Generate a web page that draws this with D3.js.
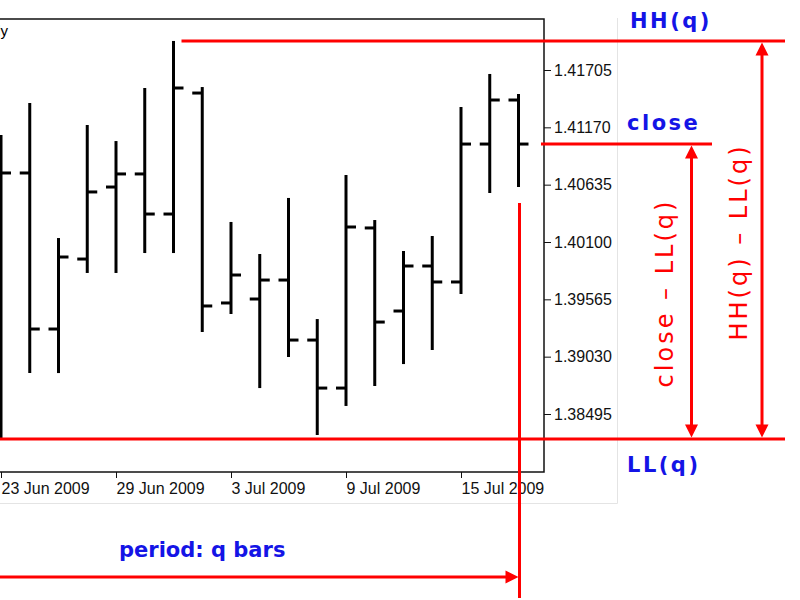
<!DOCTYPE html>
<html>
<head>
<meta charset="utf-8">
<script src="https://cdn.jsdelivr.net/npm/d3@7"></script>
<style>
  body { margin: 0; background: #fff; }
  svg { display: block; }
</style>
</head>
<body>
<script>
const width = 800;
const height = 600;

// daily bars, 23 Jun - 17 Jul 2009
const dates = ["23 Jun 2009", "24 Jun 2009", "25 Jun 2009", "26 Jun 2009", "29 Jun 2009", "30 Jun 2009",
  "1 Jul 2009", "2 Jul 2009", "3 Jul 2009", "6 Jul 2009", "7 Jul 2009", "8 Jul 2009", "9 Jul 2009",
  "10 Jul 2009", "13 Jul 2009", "14 Jul 2009", "15 Jul 2009", "16 Jul 2009", "17 Jul 2009"];
const open  = [1.39400, 1.40744, 1.39288, 1.39941, 1.40613, 1.40735, 1.40361, 1.41490, 1.39531, 1.39568,
  1.39745, 1.39185, 1.38737, 1.40231, 1.39456, 1.39876, 1.39727, 1.41014, 1.41425];
const high  = [1.41098, 1.41397, 1.40137, 1.41192, 1.41042, 1.41537, 1.41976, 1.41546, 1.40287, 1.39988,
  1.40511, 1.39381, 1.40725, 1.40305, 1.40016, 1.40156, 1.41360, 1.41668, 1.41481];
const low   = [1.38262, 1.38877, 1.38877, 1.39811, 1.39811, 1.39997, 1.39997, 1.39260, 1.39428, 1.38737,
  1.39027, 1.38299, 1.38570, 1.38756, 1.38961, 1.39092, 1.39615, 1.40557, 1.40613];
const close = [1.40744, 1.39288, 1.39960, 1.40567, 1.40735, 1.40361, 1.41537, 1.39503, 1.39792, 1.39745,
  1.39185, 1.38737, 1.40240, 1.39353, 1.39876, 1.39727, 1.41014, 1.41425, 1.41014];

const priceTicks = [1.38495, 1.39030, 1.39565, 1.40100, 1.40635, 1.41170, 1.41705];
const dateTicks = ["23 Jun 2009", "29 Jun 2009", "3 Jul 2009", "9 Jul 2009", "15 Jul 2009"];

const red = "#ff0000";
const blue = "#1414e6";

const frame = { left: -5, right: 544, top: 19, bottom: 472 };

const svg = d3.select("body").append("svg")
    .attr("width", width)
    .attr("height", height);

const x = d3.scaleLinear().domain([0, dates.length - 1]).range([1, 518.5]);
const y = d3.scaleLinear().domain([1.38495, 1.41705]).range([414, 70]);

// light outer panel border
svg.append("line").attr("x1", 617.5).attr("x2", 617.5).attr("y1", 18).attr("y2", 503.5)
    .attr("stroke", "#e4e4e4");
svg.append("line").attr("x1", 0).attr("x2", 617.5).attr("y1", 503.5).attr("y2", 503.5)
    .attr("stroke", "#e4e4e4");

// chart frame
svg.append("rect")
    .attr("x", frame.left).attr("y", frame.top)
    .attr("width", frame.right - frame.left).attr("height", frame.bottom - frame.top)
    .attr("fill", "#fff").attr("stroke", "#111").attr("stroke-width", 1.5);

// title, cut off at the left edge as in the source picture
svg.append("text")
    .attr("x", 8).attr("y", 36)
    .attr("text-anchor", "end")
    .attr("font-family", "Liberation Sans, Arial, sans-serif")
    .attr("font-size", 15)
    .text("EURUSD,Daily");

// price axis
const yAxis = svg.append("g")
    .attr("transform", `translate(${frame.right},0)`)
    .call(d3.axisRight(y).tickValues(priceTicks).tickFormat(d3.format(".5f")).tickSize(7).tickPadding(3));
yAxis.select(".domain").remove();
yAxis.selectAll("line").attr("stroke", "#111");
yAxis.selectAll("text")
    .attr("font-family", "Liberation Sans, Arial, sans-serif")
    .attr("font-size", 16).attr("fill", "#111");

// date axis
const xAxis = svg.append("g")
    .attr("transform", `translate(0,${frame.bottom})`)
    .call(d3.axisBottom(x).tickValues(dateTicks.map(d => dates.indexOf(d)))
        .tickFormat(i => dates[i]).tickSize(6).tickPadding(5));
xAxis.select(".domain").remove();
xAxis.selectAll("line").attr("stroke", "#111");
xAxis.selectAll("text")
    .attr("text-anchor", "start")
    .attr("x", 0)
    .attr("font-family", "Liberation Sans, Arial, sans-serif")
    .attr("font-size", 16).attr("fill", "#111");

// OHLC bars
const bars = dates.map((d, i) => ({ i, o: open[i], h: high[i], l: low[i], c: close[i] }));
const tickLen = 10;

const barG = svg.append("g").attr("stroke", "#000").attr("stroke-width", 3);
barG.selectAll("line.hl")
    .data(bars)
    .enter().append("line")
    .attr("class", "hl")
    .attr("x1", d => x(d.i)).attr("x2", d => x(d.i))
    .attr("y1", d => y(d.h)).attr("y2", d => y(d.l));
barG.selectAll("line.op")
    .data(bars)
    .enter().append("line")
    .attr("class", "op")
    .attr("x1", d => x(d.i) - tickLen).attr("x2", d => x(d.i))
    .attr("y1", d => y(d.o)).attr("y2", d => y(d.o));
barG.selectAll("line.cl")
    .data(bars)
    .enter().append("line")
    .attr("class", "cl")
    .attr("x1", d => x(d.i)).attr("x2", d => x(d.i) + tickLen)
    .attr("y1", d => y(d.c)).attr("y2", d => y(d.c));

// HH / LL / close levels
const last = dates.length - 1;
const hhIndex = d3.maxIndex(high);
const HH = high[hhIndex];
const LL = d3.min(low);
const lastClose = close[last];

const ann = svg.append("g").attr("stroke", red).attr("stroke-width", 3).attr("fill", "none");
ann.append("line").attr("x1", x(hhIndex) + 8).attr("x2", 785).attr("y1", y(HH)).attr("y2", y(HH));
ann.append("line").attr("x1", 541).attr("x2", 712).attr("y1", y(lastClose)).attr("y2", y(lastClose));
ann.append("line").attr("x1", -5).attr("x2", 785).attr("y1", y(LL)).attr("y2", y(LL));

// arrowheads
function arrowHead(tx, ty, dir) {
    const len = 13, half = 6.5;
    let pts;
    if (dir === "up") pts = [[tx, ty], [tx - half, ty + len], [tx + half, ty + len]];
    else if (dir === "down") pts = [[tx, ty], [tx - half, ty - len], [tx + half, ty - len]];
    else pts = [[tx, ty], [tx - len, ty - half], [tx - len, ty + half]];
    svg.append("path")
        .attr("d", "M" + pts.map(p => p.join(",")).join("L") + "Z")
        .attr("fill", red);
}

function vArrow(ax, yTop, yBot) {
    ann.append("line").attr("x1", ax).attr("x2", ax).attr("y1", yTop + 10).attr("y2", yBot - 10);
    arrowHead(ax, yTop + 1.5, "up");
    arrowHead(ax, yBot - 1.5, "down");
}
vArrow(691.5, y(lastClose), y(LL));
vArrow(762, y(HH), y(LL));

// period arrow and marker of the last bar
const periodY = 577;
ann.append("line").attr("x1", -5).attr("x2", x(last) - 10).attr("y1", periodY).attr("y2", periodY);
arrowHead(x(last), periodY, "right");
ann.append("line").attr("x1", x(last) + 1).attr("x2", x(last) + 1)
    .attr("y1", y(low[last]) + 16).attr("y2", 598);

// labels
const blueLabel = (tx, ty, s) => svg.append("text")
    .attr("x", tx).attr("y", ty)
    .attr("font-family", "DejaVu Sans, Verdana, sans-serif")
    .attr("font-weight", "bold").attr("font-size", 21)
    .attr("letter-spacing", 2.5)
    .attr("fill", blue)
    .text(s);
blueLabel(630, 28, "HH(q)");
blueLabel(627, 130, "close");
blueLabel(627, 472, "LL(q)");

svg.append("text")
    .attr("x", 119).attr("y", 557)
    .attr("font-family", "DejaVu Sans, Verdana, sans-serif")
    .attr("font-weight", "bold").attr("font-size", 21)
    .attr("fill", blue)
    .text("period: q bars");

const redLabel = (tx, ty, s) => svg.append("text")
    .attr("transform", `translate(${tx},${ty}) rotate(-90)`)
    .attr("text-anchor", "middle")
    .attr("font-family", "DejaVu Sans, Verdana, sans-serif")
    .attr("font-size", 24)
    .attr("letter-spacing", 3)
    .attr("fill", red)
    .text(s);
redLabel(673, 293, "close \u2013 LL(q)");
redLabel(747, 242, "HH(q) \u2013 LL(q)");
</script>
</body>
</html>
